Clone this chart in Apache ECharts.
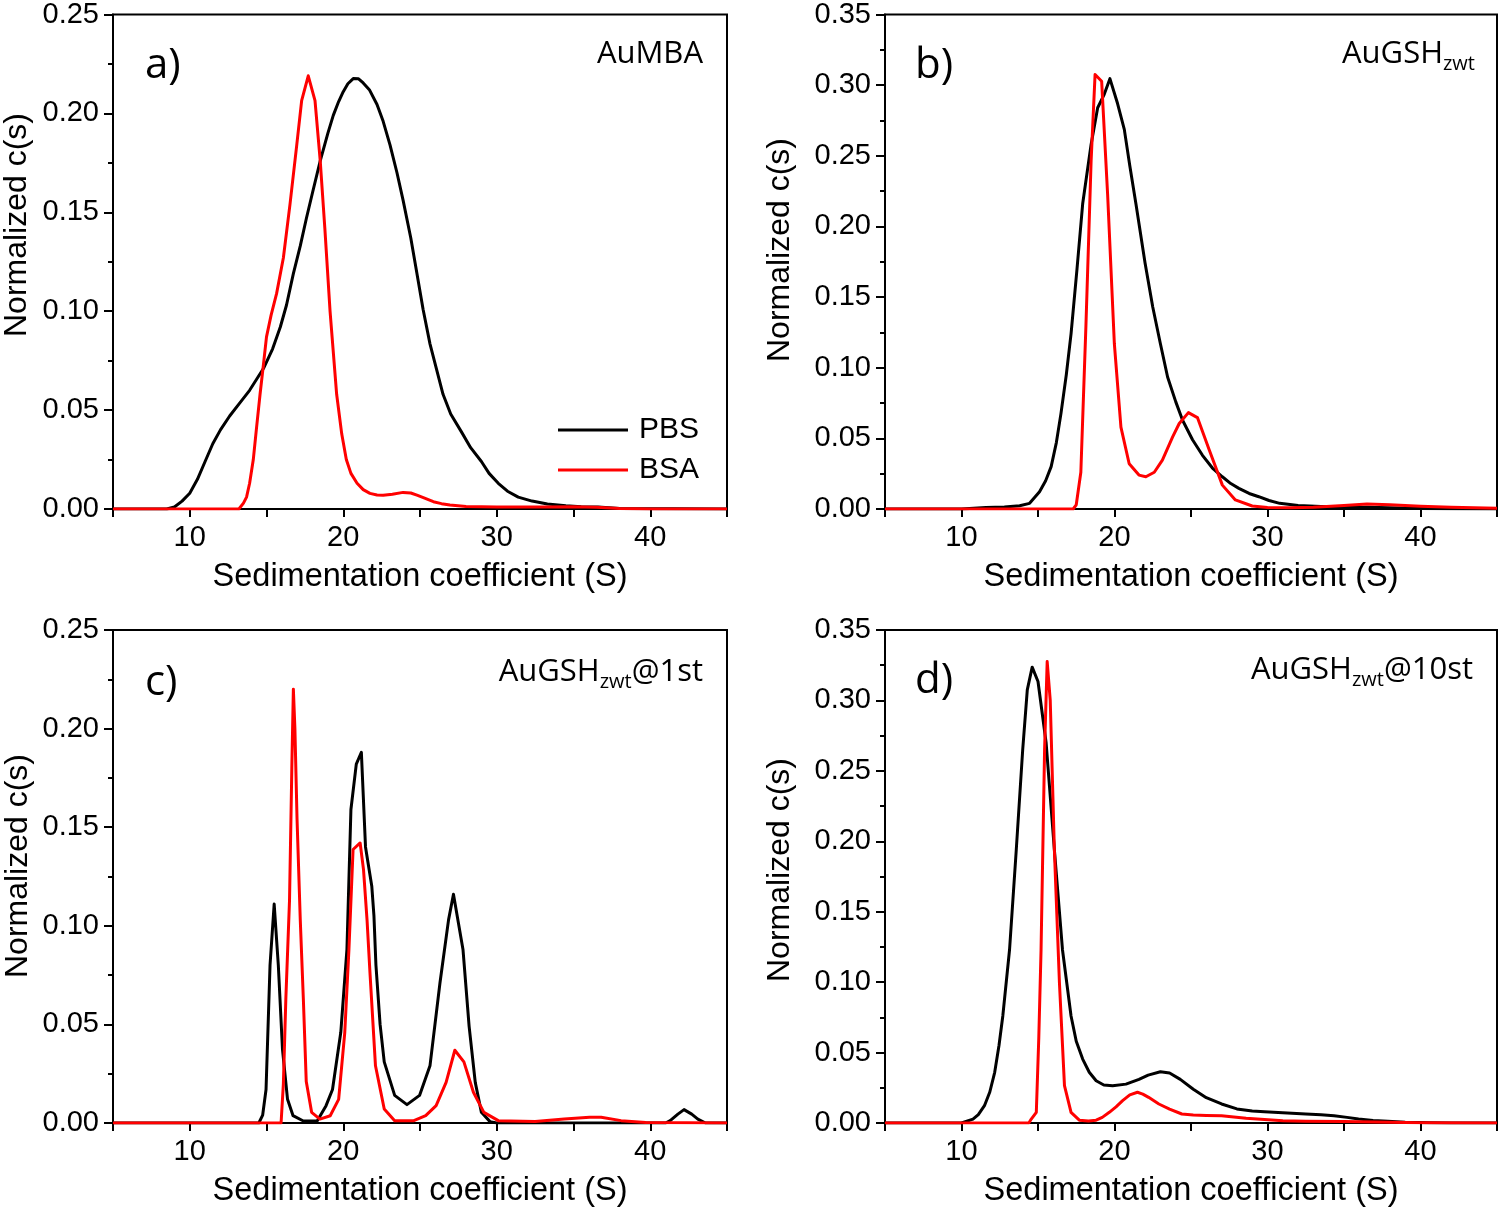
<!DOCTYPE html>
<html><head><meta charset="utf-8">
<script src="https://cdn.jsdelivr.net/npm/echarts@6/dist/echarts.min.js"></script>
<style>html,body{margin:0;padding:0;background:#fff}#c{width:1500px;height:1209px}</style>
</head><body><div id="c"></div>
<script>
// ---- data (sedimentation coefficient S, normalized c(s)) ----
const seriesNames = ['PBS', 'BSA'];
const xTickValues = [10, 20, 30, 40];
const panelLetters = ['a)', 'b)', 'c)', 'd)'];
const yMaxes = [0.25, 0.35, 0.25, 0.35];

const aPbs = [[5,0],[8.5,0],[9,0.001],[9.5,0.004],[10,0.008],[10.5,0.015],[11,0.024],[11.5,0.033],[12,0.040],[12.6,0.047],[13.2,0.053],[13.9,0.060],[14.8,0.071],[15.4,0.081],[15.9,0.092],[16.3,0.103],[16.75,0.119],[17.2,0.133],[17.6,0.147],[18.0,0.160],[18.5,0.176],[19.0,0.190],[19.35,0.199],[19.7,0.206],[20.0,0.211],[20.3,0.215],[20.65,0.2176],[21.0,0.2175],[21.3,0.2154],[21.7,0.212],[22.2,0.2045],[22.6,0.196],[23.05,0.184],[23.5,0.170],[23.9,0.156],[24.4,0.137],[24.8,0.119],[25.2,0.101],[25.65,0.0835],[26.1,0.070],[26.5,0.058],[27.0,0.048],[27.7,0.039],[28.3,0.031],[29.0,0.024],[29.5,0.018],[30.1,0.013],[30.7,0.009],[31.4,0.006],[32.3,0.004],[33.3,0.0025],[34.5,0.0016],[35.5,0.0012],[36.6,0.001],[38,0.0003],[45,0]];
const aBsa = [[5,0],[13.2,0],[13.5,0.003],[13.7,0.006],[13.9,0.013],[14.14,0.025],[14.35,0.041],[14.58,0.058],[14.8,0.073],[15.0,0.087],[15.3,0.098],[15.66,0.109],[16.1,0.127],[16.53,0.154],[16.97,0.184],[17.29,0.2065],[17.72,0.219],[18.16,0.2065],[18.5,0.176],[18.8,0.142],[19.14,0.100],[19.57,0.058],[19.9,0.038],[20.2,0.025],[20.5,0.018],[20.9,0.013],[21.3,0.0098],[21.74,0.0079],[22.2,0.0071],[22.6,0.007],[23.2,0.0075],[23.9,0.0084],[24.4,0.0081],[24.8,0.007],[25.3,0.0055],[25.87,0.0037],[26.4,0.0027],[26.95,0.002],[28,0.0013],[30,0.001],[33,0.001],[35,0.0012],[36.5,0.0009],[38,0.0003],[40,0],[45,0]];

const bPbs = [[5,0],[10,0],[11.6,0.001],[12.8,0.0015],[13.8,0.0023],[14.45,0.004],[15.1,0.0122],[15.5,0.02],[15.86,0.030],[16.2,0.047],[16.5,0.0675],[16.85,0.095],[17.16,0.124],[17.55,0.170],[17.92,0.216],[18.47,0.258],[18.9,0.284],[19.33,0.2935],[19.7,0.3046],[20.2,0.287],[20.64,0.2687],[21.0,0.243],[21.4,0.216],[22.0,0.174],[22.5,0.143],[23.0,0.117],[23.47,0.0934],[24.0,0.076],[24.45,0.0628],[25.1,0.049],[25.75,0.038],[26.4,0.029],[27.05,0.0228],[27.6,0.018],[28.13,0.0146],[28.8,0.011],[29.43,0.0087],[30.1,0.006],[30.8,0.004],[32,0.0025],[33.5,0.0018],[35,0.0014],[36.5,0.0012],[38,0.0008],[40,0.0004],[42,0.0002],[45,0]];
const bBsa = [[5,0],[17.3,0],[17.5,0.003],[17.8,0.026],[18.13,0.129],[18.47,0.246],[18.73,0.3075],[19.16,0.3028],[19.55,0.2228],[19.99,0.117],[20.42,0.058],[20.96,0.032],[21.6,0.024],[22.05,0.0228],[22.6,0.026],[23.13,0.0346],[23.8,0.051],[24.23,0.0605],[24.83,0.0682],[25.42,0.0647],[26.2,0.0416],[27.05,0.0169],[27.9,0.0064],[29.0,0.0021],[30,0.001],[31.5,0.0008],[33,0.0012],[35,0.0025],[36.5,0.0035],[38,0.003],[40,0.002],[42,0.0012],[45,0.0006]];

const cPbs = [[5,0],[14.5,0],[14.75,0.004],[14.97,0.017],[15.23,0.080],[15.5,0.111],[15.77,0.080],[16.04,0.0375],[16.37,0.012],[16.73,0.0037],[17.4,0.001],[18.3,0.001],[18.88,0.0088],[19.3,0.017],[19.84,0.046],[20.24,0.088],[20.5,0.159],[20.85,0.182],[21.18,0.188],[21.45,0.140],[21.86,0.120],[22.0,0.105],[22.13,0.080],[22.4,0.050],[22.67,0.031],[23.35,0.014],[24.15,0.0093],[24.97,0.014],[25.65,0.029],[26.3,0.071],[26.86,0.103],[27.18,0.116],[27.8,0.088],[28.2,0.049],[28.6,0.0206],[29.0,0.0054],[29.56,0.0007],[30,0],[41,0],[41.3,0.0012],[41.8,0.0045],[42.2,0.0068],[42.7,0.0045],[43.1,0.002],[43.6,0],[45,0]];
const cBsa = [[5,0],[15.95,0],[16.1,0.02],[16.26,0.063],[16.5,0.113],[16.65,0.18],[16.75,0.220],[16.85,0.20],[16.99,0.154],[17.2,0.103],[17.4,0.063],[17.59,0.021],[17.94,0.0054],[18.48,0.002],[19.15,0.0037],[19.7,0.012],[20.1,0.046],[20.37,0.088],[20.64,0.1387],[21.1,0.142],[21.32,0.1285],[21.55,0.103],[21.75,0.075],[22.1,0.029],[22.67,0.0071],[23.35,0.0012],[24.6,0.0012],[25.37,0.0037],[26.05,0.0088],[26.7,0.0206],[27.27,0.0369],[27.86,0.031],[28.48,0.0156],[29.16,0.0054],[30.1,0.0012],[32.5,0.0008],[34.4,0.002],[36.05,0.0029],[36.8,0.0029],[38.1,0.0012],[39.7,0.0002],[45,0]];

const dPbs = [[5,0],[10,0],[10.75,0.0028],[11.1,0.006],[11.5,0.0123],[11.85,0.022],[12.17,0.036],[12.45,0.055],[12.7,0.076],[13.14,0.123],[13.58,0.194],[14.0,0.265],[14.3,0.3075],[14.62,0.3236],[15.0,0.3134],[15.53,0.270],[16.07,0.194],[16.6,0.123],[17.16,0.076],[17.5,0.058],[17.92,0.0454],[18.35,0.036],[18.8,0.030],[19.3,0.027],[19.88,0.0265],[20.75,0.0276],[21.6,0.031],[22.2,0.034],[23.0,0.0364],[23.6,0.0355],[24.3,0.031],[25.15,0.024],[26.0,0.018],[27.0,0.0135],[28.0,0.010],[29.0,0.0085],[29.8,0.008],[31,0.0072],[32.5,0.0064],[33.5,0.0058],[34.35,0.0052],[35.2,0.004],[35.95,0.0028],[36.9,0.0018],[37.86,0.0012],[39,0.0006],[40.6,0.0002],[42,0],[45,0]];
const dBsa = [[5,0],[14.4,0],[14.56,0.0028],[14.89,0.0076],[15.05,0.06],[15.2,0.123],[15.43,0.265],[15.6,0.3276],[15.8,0.300],[16.07,0.194],[16.4,0.0997],[16.73,0.0265],[17.16,0.0076],[17.7,0.002],[18.3,0.0015],[18.8,0.002],[19.2,0.004],[19.66,0.0076],[20.1,0.0115],[20.53,0.0159],[21.0,0.020],[21.5,0.0218],[21.85,0.0205],[22.23,0.0182],[22.9,0.0135],[23.6,0.0099],[24.4,0.0064],[25.15,0.0057],[26,0.0054],[27.0,0.0052],[27.8,0.0043],[28.6,0.0033],[29.8,0.0024],[31,0.0016],[32.5,0.0012],[35,0.001],[38,0.0006],[40,0.0002],[45,0]];

const panelData = [[aPbs, aBsa], [bPbs, bBsa], [cPbs, cBsa], [dPbs, dBsa]];

// ---- layout & style ----
const AR = "'Liberation Sans', Arial, sans-serif";
const OS = "'Open Sans', 'Noto Sans', sans-serif";
const grids = [
  {left: 113, top: 13, width: 614, height: 496},
  {left: 885, top: 14, width: 613, height: 495},
  {left: 113, top: 630, width: 614, height: 494},
  {left: 885, top: 630, width: 613, height: 494}
];
const colors = ['#000000', '#ff0000'];

const option = {
  animation: false,
  backgroundColor: '#ffffff',
  grid: grids.map(g => Object.assign({show: true, borderColor: '#000', borderWidth: 2, backgroundColor: 'transparent'}, g)),
  xAxis: grids.map((g, i) => ({
    type: 'value', gridIndex: i, min: 5, max: 45, interval: 5,
    axisLine: {show: true, onZero: false, lineStyle: {color: '#000', width: 2}},
    axisTick: {show: true, inside: false, length: 8, lineStyle: {color: '#000', width: 2}},
    axisLabel: {
      formatter: v => (xTickValues.indexOf(v) >= 0 ? String(v) : ''),
      fontSize: 29, color: '#000', fontFamily: AR, margin: 14
    },
    splitLine: {show: false},
    name: 'Sedimentation coefficient (S)', nameLocation: 'middle', nameGap: 52,
    nameTextStyle: {fontSize: 32.5, color: '#000', fontFamily: AR}
  })),
  yAxis: grids.map((g, i) => ({
    type: 'value', gridIndex: i, min: 0, max: yMaxes[i], interval: 0.05,
    axisLine: {show: true, onZero: false, lineStyle: {color: '#000', width: 2}},
    axisTick: {show: true, inside: false, length: 9, lineStyle: {color: '#000', width: 2}},
    minorTick: {show: true, splitNumber: 2, length: 5, lineStyle: {color: '#000', width: 2}},
    axisLabel: {formatter: v => v.toFixed(2), fontSize: 29, color: '#000', fontFamily: AR, margin: 14},
    splitLine: {show: false}, minorSplitLine: {show: false}
  })),
  legend: {
    left: 553, top: 410, orient: 'vertical', itemWidth: 70, itemHeight: 3, itemGap: 10,
    selectedMode: false,
    data: seriesNames.map(n => ({name: n, icon: 'rect'})),
    textStyle: {fontSize: 30, color: '#000', fontFamily: AR, padding: [0, 0, 0, 6]}
  },
  series: [],
  graphic: []
};

panelData.forEach((pair, i) => {
  pair.forEach((d, k) => {
    option.series.push({
      name: seriesNames[k], type: 'line', xAxisIndex: i, yAxisIndex: i,
      data: d, showSymbol: false, symbol: 'none', smooth: false,
      lineStyle: {color: colors[k], width: 3, join: 'round'}, itemStyle: {color: colors[k]},
      z: k === 0 ? 3 : 4
    });
  });
});

// y-axis titles
const yTitlePos = [[17, 225], [780, 250], [18, 866], [780, 870]];
yTitlePos.forEach(p => {
  option.graphic.push({
    type: 'text', z: 10, x: p[0], y: p[1], rotation: Math.PI / 2,
    style: {text: 'Normalized c(s)', x: 0, y: 0, fill: '#000',
      font: '32px ' + AR, align: 'center', verticalAlign: 'middle'}
  });
});

const labelPos = [[145, 66], [915, 66], [145, 683], [915, 681]];
panelLetters.forEach((t, i) => {
  option.graphic.push({
    type: 'text', z: 10,
    style: {text: t, x: labelPos[i][0], y: labelPos[i][1], fill: '#000',
      font: '42px ' + OS, align: 'left', verticalAlign: 'middle'}
  });
});

const richStyle = {
  m: {fontSize: 31, fontFamily: OS, lineHeight: 40, verticalAlign: 'middle', fill: '#000'},
  s: {fontSize: 20, fontFamily: OS, lineHeight: 20, verticalAlign: 'bottom', fill: '#000'}
};
const sampleTitles = [
  {text: '{m|AuMBA}', x: 703, y: 54},
  {text: '{m|AuGSH}{s|zwt}', x: 1475, y: 54},
  {text: '{m|AuGSH}{s|zwt}{m|@1st}', x: 703, y: 672},
  {text: '{m|AuGSH}{s|zwt}{m|@10st}', x: 1473, y: 670}
];
sampleTitles.forEach(st => {
  option.graphic.push({
    type: 'text', z: 10,
    style: {text: st.text, x: st.x, y: st.y, align: 'right', verticalAlign: 'middle',
      fill: '#000', rich: richStyle, font: '31px ' + OS}
  });
});

const chart = echarts.init(document.getElementById('c'), null, {renderer: 'canvas'});
chart.setOption(option);
</script>
</body></html>
